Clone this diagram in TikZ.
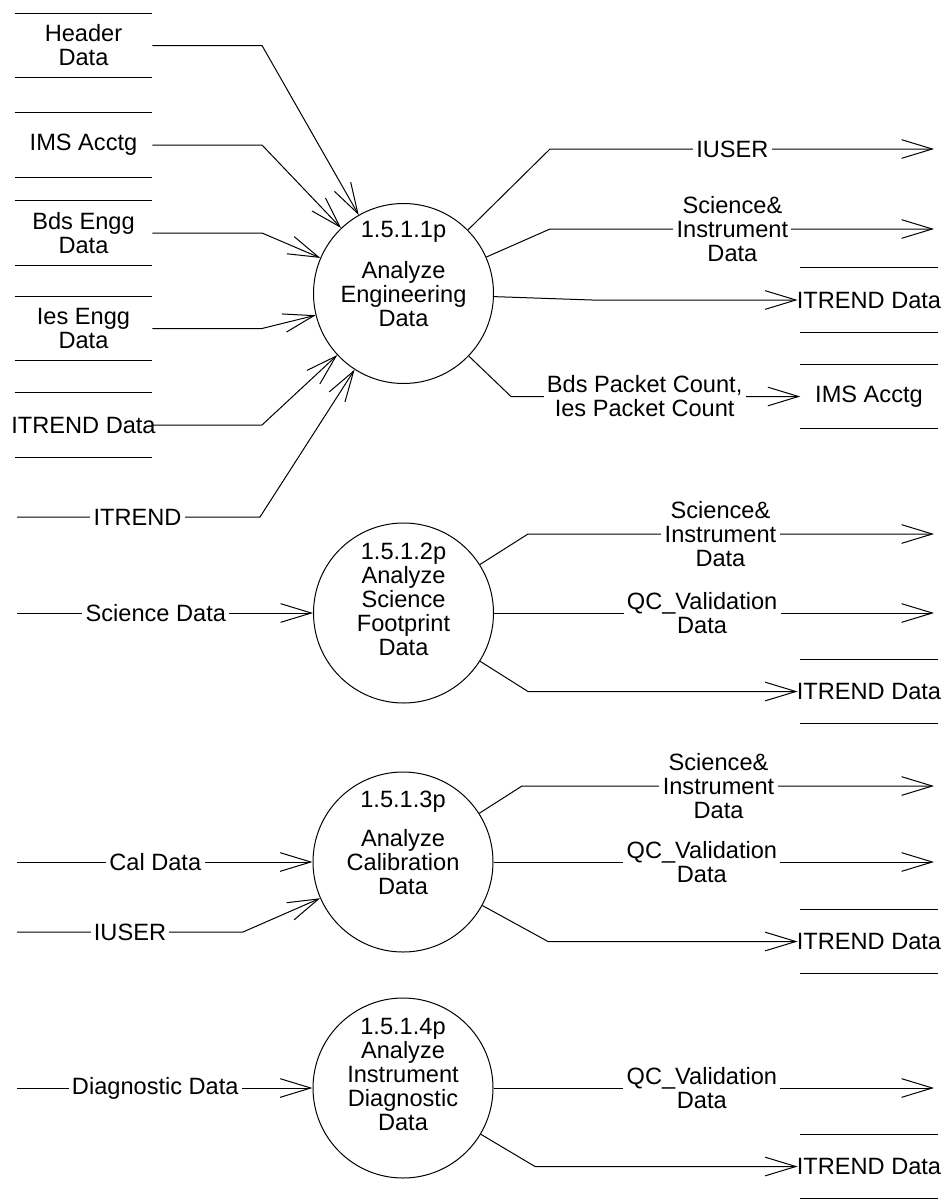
\documentclass[tikz,border=0pt]{standalone}
\usepackage{fontspec}
\setmainfont{Liberation Sans}
\usetikzlibrary{arrows.meta}
\newcommand\dfdfont{\fontsize{17.7pt}{18pt}\selectfont}
\tikzset{
  every node/.append style={font=\dfdfont},
  proc/.style={circle, draw, line width=0.75pt, minimum size=135pt, inner sep=0pt},
  ptext/.style={align=center, inner sep=0pt},
  store/.style={minimum width=102.75pt, minimum height=48pt, inner sep=0pt, align=center},
  storeline/.style={line width=0.75pt},
  flow/.style={draw, line width=0.75pt, -{Straight Barb[length=23pt, width=14pt, line width=0.75pt]}},
  lbl/.style={fill=white, inner xsep=2.5pt, inner ysep=1pt, align=center},
}
\begin{document}
\begin{tikzpicture}[x=0.75pt, y=-0.75pt]
\useasboundingbox (0,0) rectangle (947,1199);

% processes
\node[proc] (p1) at (403.5,293.5) {};
\node[proc] (p2) at (403.5,613) {};
\node[proc] (p3) at (403,862) {};
\node[proc] (p4) at (403,1088) {};
\node[ptext] (p1t) at (403.5,273.5) {1.5.1.1p\\[12.75pt]Analyze\\Engineering\\Data};
\node[ptext] (p2t) at (403.5,599.5) {1.5.1.2p\\Analyze\\Science\\Footprint\\Data};
\node[ptext] (p3t) at (403,843) {1.5.1.3p\\[11.25pt]Analyze\\Calibration\\Data};
\node[ptext] (p4t) at (403,1074) {1.5.1.4p\\Analyze\\Instrument\\Diagnostic\\Data};

% data stores, left column
\node[store] (hdr) at (83.5,45.5) {Header\\Data};
\node[store] (ims) at (83.5,145) {IMS Acctg};
\node[store] (bds) at (83.5,233) {Bds Engg\\Data};
\node[store] (ies) at (83.5,328.5) {Ies Engg\\Data};
\node[store] (itd) at (83.5,425) {\makebox[0pt]{ITREND Data}};

% data stores, right column
\node[store] (r1itd) at (869,300) {\makebox[0pt]{ITREND Data}};
\node[store] (r1ims) at (869,396.5) {IMS Acctg};
\node[store] (r2itd) at (869,691.5) {\makebox[0pt]{ITREND Data}};
\node[store] (r3itd) at (869,941.5) {\makebox[0pt]{ITREND Data}};
\node[store] (r4itd) at (869,1166.5) {\makebox[0pt]{ITREND Data}};

\foreach \s in {hdr,ims,bds,ies,itd,r1itd,r1ims,r2itd,r3itd,r4itd}
  \draw[storeline] (\s.north west) -- (\s.north east) (\s.south west) -- (\s.south east);

% free ends of flows
\coordinate (in1) at (17,517);
\coordinate (in2) at (17,613);
\coordinate (in3a) at (17,862);
\coordinate (in3b) at (17,932);
\coordinate (in4) at (17,1088);
\coordinate (o1a) at (934,149);
\coordinate (o1b) at (934,229);
\coordinate (o2a) at (934,534);
\coordinate (o2b) at (934,613);
\coordinate (o3a) at (934,786);
\coordinate (o3b) at (934,862);
\coordinate (o4b) at (934,1088);

% inputs to 1.5.1.1p
\draw[flow] (hdr.east) -- (262,45.5) -- (p1);
\draw[flow] (ims.east) -- (262,145) -- (p1);
\draw[flow] (bds.east) -- (262,233) -- (p1);
\draw[flow] (ies.east) -- (262,328.5) -- (p1);
\draw[flow] (itd.east) -- (262,425) -- (p1);
\draw[flow] (in1) -- node[lbl, pos=0.496] {ITREND} (260,517) -- (p1);

% outputs of 1.5.1.1p
\draw[flow] (p1) -- (550,149) -- node[lbl, pos=0.475] {IUSER} (o1a);
\draw[flow] (p1) -- (550,229) -- node[lbl, pos=0.475] {Science\&\\Instrument\\Data} (o1b);
\draw[flow, shorten >=2pt] (p1) -- (592,300) -- (r1itd.west);
\draw[flow] (p1) -- (511,396.5) -- node[lbl, pos=0.462] {Bds Packet Count,\\Ies Packet Count} (r1ims.west);

% 1.5.1.2p
\draw[flow] (in2) -- node[lbl, pos=0.469] {Science Data} (p2);
\draw[flow] (p2) -- (528,534) -- node[lbl, pos=0.474] {Science\&\\Instrument\\Data} (o2a);
\draw[flow] (p2) -- node[lbl, pos=0.473] {QC\_Validation\\Data} (o2b);
\draw[flow, shorten >=2pt] (p2) -- (528,691.5) -- (r2itd.west);

% 1.5.1.3p
\draw[flow] (in3a) -- node[lbl, pos=0.468] {Cal Data} (p3);
\draw[flow] (in3b) -- node[lbl, pos=0.5] {IUSER} (243,932) -- (p3);
\draw[flow] (p3) -- (522,786) -- node[lbl, pos=0.477] {Science\&\\Instrument\\Data} (o3a);
\draw[flow] (p3) -- node[lbl, pos=0.473] {QC\_Validation\\Data} (o3b);
\draw[flow, shorten >=2pt] (p3) -- (548,941.5) -- (r3itd.west);

% 1.5.1.4p
\draw[flow] (in4) -- node[lbl, pos=0.468] {Diagnostic Data} (p4);
\draw[flow] (p4) -- node[lbl, pos=0.473] {QC\_Validation\\Data} (o4b);
\draw[flow, shorten >=2pt] (p4) -- (535,1166.5) -- (r4itd.west);
\end{tikzpicture}
\end{document}
